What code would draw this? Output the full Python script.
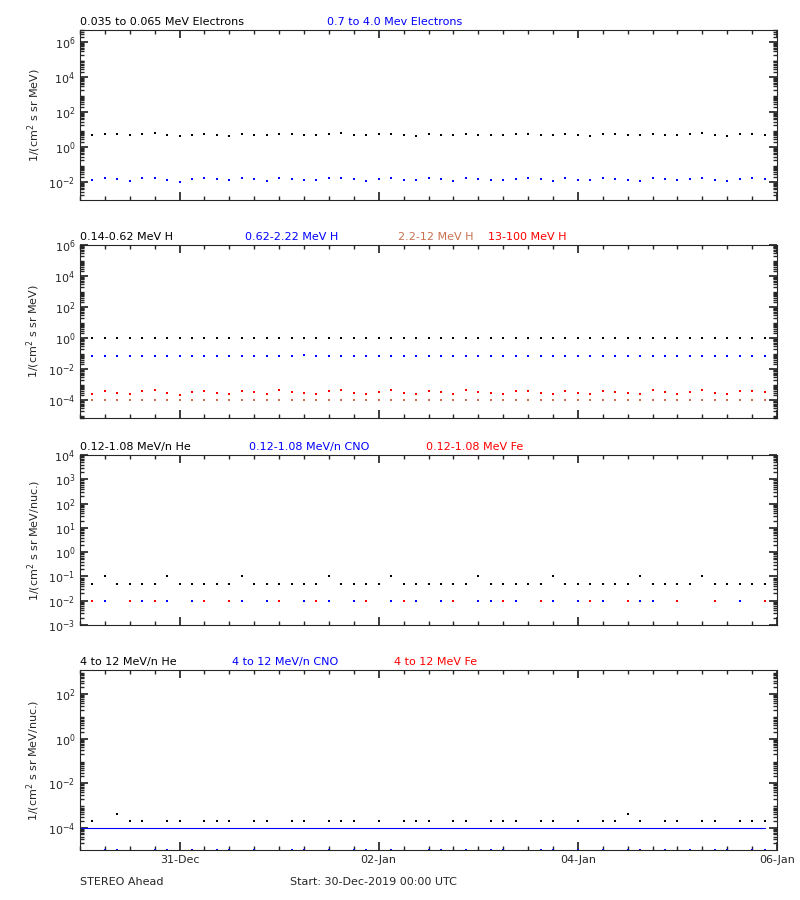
import numpy as np, pandas as pd, matplotlib
matplotlib.use("Agg")
import matplotlib.pyplot as plt, matplotlib.dates as mdates, seaborn as sns
from matplotlib.ticker import LogLocator, FixedLocator

sns.set_theme(style="ticks")
plt.rcParams['font.family'] = ['DejaVu Sans']

# 3-hourly samples, 30-Dec-2019 00:00 .. 06-Jan-2020
e_low = [5.2,4.8,6.1,5.5,4.9,5.8,6.3,5.0,4.7,5.4,6.0,5.1,4.6,5.9,5.3,4.9,6.2,5.6,5.0,4.8,5.7,6.4,5.2,4.9,5.5,6.0,5.1,4.7,5.8,5.3,4.9,6.1,5.4,5.0,4.8,5.6,6.2,5.2,4.9,5.7,5.1,4.6,5.9,5.5,5.0,4.8,6.0,5.3,4.9,5.6,6.3,5.1,4.7,5.5,5.9,5.2]
e_high = [0.016,0.013,0.018,0.015,0.012,0.017,0.019,0.014,0.011,0.016,0.018,0.015,0.013,0.017,0.016,0.012,0.019,0.015,0.014,0.013,0.017,0.018,0.016,0.012,0.015,0.019,0.014,0.013,0.017,0.016,0.012,0.018,0.015,0.014,0.013,0.016,0.019,0.015,0.012,0.017,0.014,0.013,0.018,0.016,0.014,0.012,0.017,0.015,0.013,0.016,0.018,0.014,0.012,0.016,0.017,0.015]
h1 = [1.0,1.02,0.98,1.03,0.99,1.01,1.0,0.97,1.02,1.0,0.99,1.03,1.01,0.98,1.0,1.02,0.99,1.01,1.0,0.98,1.03,1.0,0.99,1.01,1.02,0.98,1.0,0.99,1.01,1.03,1.0,0.98,1.02,1.0,0.99,1.01,1.0,0.97,1.02,1.0,0.99,1.01,1.0,0.98,1.02,1.01,0.99,1.0,1.03,0.98,1.0,1.01,0.99,1.02,1.0,0.99]
h2 = [0.075,0.07,0.072,0.068,0.074,0.071,0.069,0.073,0.07,0.067,0.072,0.074,0.069,0.071,0.073,0.068,0.07,0.072,0.075,0.069,0.071,0.07,0.068,0.073,0.072,0.069,0.071,0.074,0.07,0.068,0.072,0.071,0.069,0.073,0.07,0.067,0.072,0.074,0.069,0.071,0.07,0.068,0.073,0.072,0.069,0.071,0.07,0.068,0.072,0.074,0.069,0.07,0.071,0.068,0.072,0.07]
h3 = [1.0e-4]*56
h4 = [3.2e-4,2.6e-4,4.1e-4,3.0e-4,2.4e-4,3.6e-4,4.5e-4,2.8e-4,2.2e-4,3.4e-4,4.0e-4,2.9e-4,2.5e-4,3.8e-4,3.1e-4,2.3e-4,4.3e-4,3.3e-4,2.7e-4,2.4e-4,3.7e-4,4.6e-4,3.0e-4,2.5e-4,3.5e-4,4.2e-4,2.8e-4,2.3e-4,3.9e-4,3.2e-4,2.6e-4,4.4e-4,3.4e-4,2.7e-4,2.4e-4,3.6e-4,4.1e-4,3.0e-4,2.5e-4,3.8e-4,2.9e-4,2.3e-4,4.0e-4,3.3e-4,2.7e-4,2.4e-4,4.2e-4,3.1e-4,2.6e-4,3.5e-4,4.5e-4,2.9e-4,2.4e-4,3.7e-4,4.0e-4,3.1e-4]
he_low = [0.05,0.05,0.1,0.05,0.05,0.05,0.05,0.1,0.05,0.05,0.05,0.05,0.05,0.1,0.05,0.05,0.05,0.05,0.05,0.05,0.1,0.05,0.05,0.05,0.05,0.1,0.05,0.05,0.05,0.05,0.05,0.05,0.1,0.05,0.05,0.05,0.05,0.05,0.1,0.05,0.05,0.05,0.05,0.05,0.05,0.1,0.05,0.05,0.05,0.05,0.1,0.05,0.05,0.05,0.05,0.05]
cno_low = [0.01,np.nan,0.01,np.nan,np.nan,0.01,np.nan,0.01,np.nan,0.01,0.01,np.nan,np.nan,0.01,np.nan,0.01,np.nan,np.nan,0.01,np.nan,0.01,np.nan,0.01,np.nan,np.nan,0.01,np.nan,0.01,np.nan,0.01,np.nan,np.nan,0.01,0.01,np.nan,0.01,np.nan,np.nan,0.01,np.nan,0.01,np.nan,0.01,np.nan,np.nan,0.01,0.01,np.nan,0.01,np.nan,np.nan,0.01,np.nan,0.01,np.nan,0.01]
fe_low = [np.nan,0.01,np.nan,np.nan,0.01,np.nan,0.01,np.nan,np.nan,np.nan,0.01,np.nan,0.01,np.nan,np.nan,np.nan,0.01,np.nan,np.nan,0.01,np.nan,np.nan,np.nan,0.01,np.nan,np.nan,0.01,np.nan,np.nan,np.nan,0.01,np.nan,np.nan,np.nan,0.01,np.nan,np.nan,0.01,np.nan,np.nan,np.nan,0.01,np.nan,np.nan,0.01,np.nan,np.nan,np.nan,0.01,np.nan,np.nan,0.01,np.nan,np.nan,np.nan,0.01]
he_high = [2e-4,2e-4,np.nan,4e-4,2e-4,2e-4,np.nan,2e-4,2e-4,np.nan,2e-4,2e-4,2e-4,np.nan,2e-4,2e-4,np.nan,2e-4,2e-4,np.nan,2e-4,2e-4,2e-4,np.nan,2e-4,np.nan,2e-4,2e-4,2e-4,np.nan,2e-4,2e-4,np.nan,2e-4,2e-4,2e-4,np.nan,2e-4,2e-4,np.nan,2e-4,np.nan,2e-4,2e-4,4e-4,2e-4,np.nan,2e-4,2e-4,np.nan,2e-4,2e-4,np.nan,2e-4,2e-4,2e-4]
cno_high = [1e-5,np.nan,1e-5,1e-5,np.nan,np.nan,1e-5,1e-5,np.nan,1e-5,np.nan,1e-5,1e-5,np.nan,1e-5,np.nan,np.nan,1e-5,1e-5,np.nan,1e-5,np.nan,1e-5,1e-5,np.nan,1e-5,np.nan,np.nan,1e-5,1e-5,np.nan,1e-5,np.nan,1e-5,1e-5,np.nan,np.nan,1e-5,1e-5,np.nan,1e-5,np.nan,1e-5,np.nan,1e-5,1e-5,np.nan,1e-5,np.nan,1e-5,np.nan,1e-5,1e-5,np.nan,1e-5,1e-5]
cno_high_bg = [1e-4]*56

t = pd.date_range("2019-12-30 00:00", periods=56, freq="3h")
BROWN = "#c87050"
FS = 8

fig = plt.figure(figsize=(8, 9), dpi=100)
boxes = [(30, 200), (245, 418), (455, 625), (670, 850)]
axes = [fig.add_axes([80/800, 1-b/900, 697/800, (b-tp)/900]) for tp, b in boxes]

def pts(ax, y, c, s=3, marker="s"):
    sns.scatterplot(x=t, y=y, ax=ax, color=c, s=s, marker=marker, linewidth=0, legend=False)

def bg(ax, y, c):
    sns.lineplot(x=t, y=y, ax=ax, color=c, lw=0.8, legend=False)

a = axes[0]; pts(a, e_low, "black"); pts(a, e_high, "blue")
a = axes[1]; pts(a, h1, "black"); pts(a, h2, "blue"); pts(a, h3, BROWN); pts(a, h4, "red")
a = axes[2]; pts(a, he_low, "black"); pts(a, cno_low, "blue"); pts(a, fe_low, "red")
a = axes[3]; pts(a, he_high, "black"); bg(a, cno_high_bg, "blue"); pts(a, cno_high, "blue")

ylims = [(1e-3, 5e6), (7e-6, 1e6), (1e-3, 1e4), (1e-5, 1.2e3)]
majors = [[1e-2, 1, 1e2, 1e4, 1e6], [1e-4, 1e-2, 1, 1e2, 1e4, 1e6],
          [10.0**k for k in range(-3, 5)], [1e-4, 1e-2, 1, 1e2]]
ylabels = ["1/(cm$^2$ s sr MeV)", "1/(cm$^2$ s sr MeV)",
           "1/(cm$^2$ s sr MeV/nuc.)", "1/(cm$^2$ s sr MeV/nuc.)"]
titles = [[("0.035 to 0.065 MeV Electrons", "black"), ("0.7 to 4.0 Mev Electrons", "blue")],
          [("0.14-0.62 MeV H", "black"), ("0.62-2.22 MeV H", "blue"), ("2.2-12 MeV H", BROWN), ("13-100 MeV H", "red")],
          [("0.12-1.08 MeV/n He", "black"), ("0.12-1.08 MeV/n CNO", "blue"), ("0.12-1.08 MeV Fe", "red")],
          [("4 to 12 MeV/n He", "black"), ("4 to 12 MeV/n CNO", "blue"), ("4 to 12 MeV Fe", "red")]]
xpos = [[0, 0.355], [0, 0.237, 0.456, 0.585], [0, 0.242, 0.497], [0, 0.218, 0.45]]

for i, a in enumerate(axes):
    a.set_yscale("log"); a.set_ylim(*ylims[i])
    a.set_xlim(pd.Timestamp("2019-12-30"), pd.Timestamp("2020-01-06"))
    a.yaxis.set_major_locator(FixedLocator(majors[i]))
    a.yaxis.set_minor_locator(LogLocator(base=10, subs=np.arange(2, 10), numticks=20))
    a.set_ylabel(ylabels[i], fontsize=FS)
    a.tick_params(axis="both", which="both", direction="in", top=True, right=True, labelsize=FS)
    a.tick_params(which="major", length=6); a.tick_params(which="minor", length=3)
    a.xaxis.set_major_locator(mdates.DayLocator(bymonthday=[31, 2, 4, 6]))
    a.xaxis.set_minor_locator(mdates.HourLocator(byhour=[0, 6, 12, 18]))
    a.xaxis.set_major_formatter(mdates.DateFormatter("%d-%b"))
    a.set_xlabel("")
    if i < 3: a.set_xticklabels([])
    for sp in a.spines.values(): sp.set_linewidth(0.8)
    for (txt, c), x in zip(titles[i], xpos[i]):
        a.text(x, 1.015, txt, color=c, transform=a.transAxes, fontsize=FS, va="bottom")

fig.text(80/800, 1-882/900, "STEREO Ahead", fontsize=FS, va="center")
fig.text(290/800, 1-882/900, "Start: 30-Dec-2019 00:00 UTC", fontsize=FS, va="center")
fig.savefig("out.png", dpi=100)
